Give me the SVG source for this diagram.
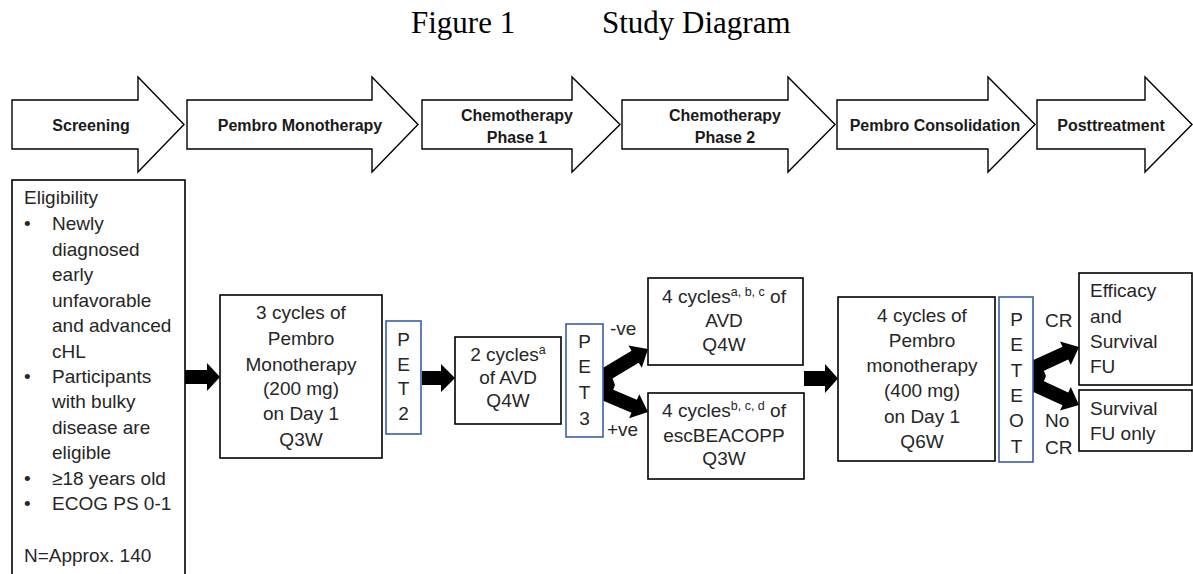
<svg xmlns="http://www.w3.org/2000/svg" width="1193" height="574" viewBox="0 0 1193 574">
<style>
.bg{fill:#fff}
.phase{fill:#fff;stroke:#000;stroke-width:1.4}
.box{fill:#fff;stroke:#000;stroke-width:1.6}
.pet{fill:#fff;stroke:#3b5ea8;stroke-width:1.6}
.blk{fill:#000;stroke:none}
.title{font-family:"Liberation Serif","Times New Roman",serif;font-size:31px;fill:#000}
.lbl{font-family:"Liberation Sans",Arial,sans-serif;font-size:16px;font-weight:bold;fill:#1a1a1a;text-anchor:middle}
.t{font-family:"Liberation Sans",Arial,sans-serif;font-size:19px;fill:#262626}
.c{text-anchor:middle}
.sup{font-size:12.5px}
</style>
<rect class="bg" x="0" y="0" width="1193" height="574"/>
<g id="title">
<text class="title" x="411" y="33">Figure 1</text>
<text class="title" x="602" y="33">Study Diagram</text>
</g>
<g id="phase-screening">
<polygon class="phase" points="12,100 138,100 138,77 184,124.5 138,172 138,149 12,149"/>
<text class="lbl" x="91" y="131">Screening</text>
</g>
<g id="phase-pembro-mono">
<polygon class="phase" points="187,100 372,100 372,77 418,124.5 372,172 372,149 187,149"/>
<text class="lbl" x="300" y="131">Pembro Monotherapy</text>
</g>
<g id="phase-chemo1">
<polygon class="phase" points="422,100 572,100 572,77 620,124.5 572,172 572,149 422,149"/>
<text class="lbl" x="517" y="121">Chemotherapy</text>
<text class="lbl" x="517" y="143">Phase 1</text>
</g>
<g id="phase-chemo2">
<polygon class="phase" points="622,100 788,100 788,77 835,124.5 788,172 788,149 622,149"/>
<text class="lbl" x="725" y="121">Chemotherapy</text>
<text class="lbl" x="725" y="143">Phase 2</text>
</g>
<g id="phase-consolidation">
<polygon class="phase" points="837,100 988,100 988,77 1035,124.5 988,172 988,149 837,149"/>
<text class="lbl" x="935" y="131">Pembro Consolidation</text>
</g>
<g id="phase-posttreatment">
<polygon class="phase" points="1037,100 1145,100 1145,77 1192,124.5 1145,172 1145,149 1037,149"/>
<text class="lbl" x="1111" y="131">Posttreatment</text>
</g>
<g id="connectors">
<polygon class="blk" points="185,370 207,370 207,363 220,377 207,391 207,384 185,384"/>
<polygon class="blk" points="422,371 441,371 441,364 455,378 441,392 441,385 422,385"/>
<polygon class="blk" points="804,371 825,371 825,364 838,378.5 825,393 825,386 804,386"/>
<polygon class="blk" points="599.4,370 631.5,350.7 628.4,345.6 648,349 641.8,367.8 638.7,362.7 606.6,382"/>
<polygon class="blk" points="605.7,386.5 636.9,399.7 639.3,394.2 648,412 629.1,418.2 631.5,412.7 600.3,399.5"/>
<polygon class="blk" points="603,370 612,377 615,385 612,393 603,400"/>
<polygon class="blk" points="1030.1,361.6 1062.5,346.8 1060,341.4 1079,347 1070.8,365 1068.3,359.6 1035.9,374.4"/>
<polygon class="blk" points="1035.9,377.6 1068.3,392.4 1070.8,387 1079,405 1060,410.6 1062.5,405.2 1030.1,390.4"/>
<polygon class="blk" points="1033,360 1043,369 1046,376 1043,383 1033,392"/>
<text class="t" x="610" y="335">-ve</text>
<text class="t" x="607" y="436">+ve</text>
<text class="t" x="1045" y="327">CR</text>
<text class="t" x="1045" y="427">No</text>
<text class="t" x="1045" y="454">CR</text>
</g>
<g id="eligibility">
<rect class="box" x="12" y="180" width="173" height="410"/>
<text class="t" x="24" y="204">Eligibility</text>
<text class="t" x="24" y="230">•</text>
<text class="t" x="52" y="230">Newly</text>
<text class="t" x="52" y="256">diagnosed</text>
<text class="t" x="52" y="281">early</text>
<text class="t" x="52" y="307">unfavorable</text>
<text class="t" x="52" y="332">and advanced</text>
<text class="t" x="52" y="358">cHL</text>
<text class="t" x="24" y="383">•</text>
<text class="t" x="52" y="383">Participants</text>
<text class="t" x="52" y="408">with bulky</text>
<text class="t" x="52" y="434">disease are</text>
<text class="t" x="52" y="459">eligible</text>
<text class="t" x="24" y="485">•</text>
<text class="t" x="52" y="485">≥18 years old</text>
<text class="t" x="24" y="510">•</text>
<text class="t" x="52" y="510">ECOG PS 0-1</text>
<text class="t" x="24" y="562">N=Approx. 140</text>
</g>
<g id="pembro-mono">
<rect class="box" x="220" y="295" width="162" height="163"/>
<text class="t c" x="301" y="319">3 cycles of</text>
<text class="t c" x="301" y="345">Pembro</text>
<text class="t c" x="301" y="370.5">Monotherapy</text>
<text class="t c" x="301" y="395">(200 mg)</text>
<text class="t c" x="301" y="420">on Day 1</text>
<text class="t c" x="301" y="445.5">Q3W</text>
</g>
<g id="pet2">
<rect class="pet" x="386" y="321" width="35" height="113"/>
<text class="t c" x="403.5" y="345.5">P</text>
<text class="t c" x="403.5" y="370.5">E</text>
<text class="t c" x="403.5" y="395">T</text>
<text class="t c" x="403.5" y="420">2</text>
</g>
<g id="avd-2">
<rect class="box" x="455" y="337" width="106" height="87"/>
<text class="t c" x="508" y="361">2 cycles<tspan class="sup" dy="-7">a</tspan></text>
<text class="t c" x="508" y="384">of AVD</text>
<text class="t c" x="508" y="407">Q4W</text>
</g>
<g id="pet3">
<rect class="pet" x="566" y="324" width="37" height="113"/>
<text class="t c" x="584.5" y="348">P</text>
<text class="t c" x="584.5" y="373">E</text>
<text class="t c" x="584.5" y="399">T</text>
<text class="t c" x="584.5" y="425">3</text>
</g>
<g id="avd-4">
<rect class="box" x="648" y="278" width="155" height="87"/>
<text class="t c" x="724" y="303">4 cycles<tspan class="sup" dy="-7">a, b, c</tspan><tspan dy="7"> of</tspan></text>
<text class="t c" x="724" y="327">AVD</text>
<text class="t c" x="724" y="351">Q4W</text>
</g>
<g id="escbeacopp">
<rect class="box" x="648" y="393" width="156" height="86"/>
<text class="t c" x="724" y="417">4 cycles<tspan class="sup" dy="-7">b, c, d</tspan><tspan dy="7"> of</tspan></text>
<text class="t c" x="724" y="442">escBEACOPP</text>
<text class="t c" x="724" y="465">Q3W</text>
</g>
<g id="pembro-consolidation">
<rect class="box" x="838" y="297" width="157" height="164"/>
<text class="t c" x="922" y="322">4 cycles of</text>
<text class="t c" x="922" y="347">Pembro</text>
<text class="t c" x="922" y="372">monotherapy</text>
<text class="t c" x="922" y="397">(400 mg)</text>
<text class="t c" x="922" y="423">on Day 1</text>
<text class="t c" x="922" y="448">Q6W</text>
</g>
<g id="peteot">
<rect class="pet" x="999" y="297" width="34" height="165"/>
<text class="t c" x="1016.5" y="326">P</text>
<text class="t c" x="1016.5" y="351">E</text>
<text class="t c" x="1016.5" y="376.5">T</text>
<text class="t c" x="1016.5" y="402">E</text>
<text class="t c" x="1016.5" y="427">O</text>
<text class="t c" x="1016.5" y="452.5">T</text>
</g>
<g id="efficacy">
<rect class="box" x="1079" y="273" width="113" height="112"/>
<text class="t" x="1090" y="297">Efficacy</text>
<text class="t" x="1090" y="323">and</text>
<text class="t" x="1090" y="348">Survival</text>
<text class="t" x="1090" y="373">FU</text>
</g>
<g id="survival">
<rect class="box" x="1079" y="390" width="113" height="61"/>
<text class="t" x="1090" y="415">Survival</text>
<text class="t" x="1090" y="440">FU only</text>
</g>
</svg>
